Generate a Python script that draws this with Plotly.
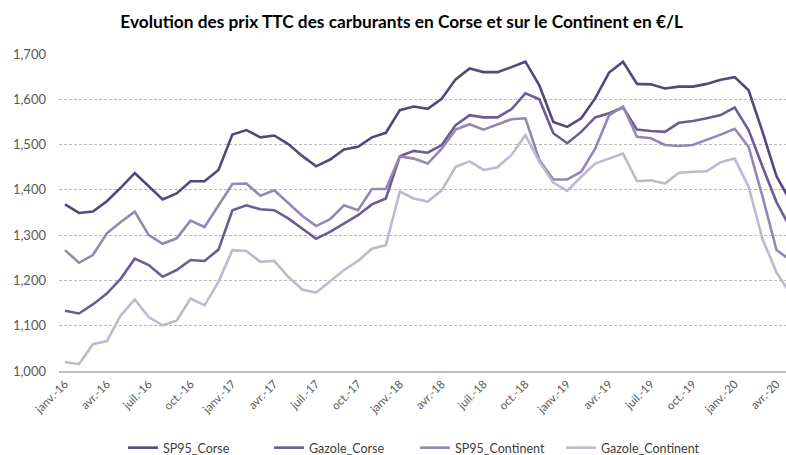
import plotly.graph_objects as go

months = ["janv.", "févr.", "mars", "avr.", "mai", "juin", "juil.", "août", "sept.", "oct.", "nov.", "déc."]
years = ["16", "17", "18", "19", "20"]
categories = [f"{m}-{y}" for y in years for m in months][:53]

sp95_corse = [1368, 1349, 1352, 1375, 1405, 1437, 1408, 1379, 1392, 1419, 1419, 1444,
              1522, 1532, 1516, 1520, 1501, 1475, 1452, 1467, 1489, 1495, 1516, 1526,
              1576, 1584, 1579, 1601, 1644, 1668, 1660, 1660, 1671, 1683, 1631, 1550,
              1539, 1558, 1602, 1659, 1683, 1634, 1633, 1624, 1628, 1628, 1634, 1643,
              1649, 1620, 1528, 1430, 1375]
gazole_corse = [1133, 1127, 1147, 1171, 1204, 1248, 1234, 1208, 1223, 1245, 1243, 1268,
                1355, 1366, 1357, 1355, 1337, 1315, 1292, 1307, 1326, 1344, 1368, 1381,
                1474, 1486, 1482, 1499, 1543, 1565, 1560, 1560, 1578, 1613, 1600, 1525,
                1503, 1528, 1560, 1569, 1582, 1533, 1530, 1528, 1548, 1552, 1558, 1565,
                1582, 1532, 1451, 1373, 1315]
sp95_continent = [1267, 1239, 1256, 1304, 1329, 1352, 1300, 1281, 1293, 1332, 1318, 1366,
                  1413, 1414, 1387, 1399, 1370, 1343, 1320, 1335, 1366, 1355, 1402, 1402,
                  1474, 1469, 1458, 1491, 1533, 1545, 1533, 1545, 1556, 1558, 1466, 1423,
                  1423, 1440, 1491, 1565, 1584, 1517, 1514, 1499, 1497, 1499, 1510, 1522,
                  1535, 1495, 1385, 1267, 1245]
gazole_continent = [1020, 1015, 1059, 1066, 1123, 1158, 1119, 1101, 1111, 1160, 1145, 1197,
                    1267, 1265, 1241, 1243, 1208, 1180, 1173, 1197, 1223, 1243, 1270, 1278,
                    1396, 1381, 1374, 1399, 1451, 1463, 1444, 1450, 1477, 1521, 1462, 1416,
                    1398, 1429, 1458, 1469, 1480, 1419, 1421, 1414, 1438, 1440, 1441, 1461,
                    1469, 1407, 1291, 1218, 1170]

series_names = ["SP95_Corse", "Gazole_Corse", "SP95_Continent", "Gazole_Continent"]
series_values = [sp95_corse, gazole_corse, sp95_continent, gazole_continent]
colors = ["#57467a", "#6d5b94", "#9687b2", "#bfb8d2"]

y_ticks = [1000, 1100, 1200, 1300, 1400, 1500, 1600, 1700]
y_ticklabels = ["1,000", "1,100", "1,200", "1,300", "1,400", "1,500", "1,600", "1,700"]

x_idx = list(range(len(categories)))
x_tickvals = x_idx[::3]
x_ticktext = categories[::3]

fig = go.Figure()
for name, vals, col in zip(series_names, series_values, colors):
    fig.add_trace(go.Scatter(x=x_idx, y=vals, name=name, mode="lines",
                             line=dict(color=col, width=2.6)))

fig.update_layout(
    width=786, height=455,
    margin=dict(l=59, r=0, t=54, b=84, autoexpand=False),
    paper_bgcolor="white", plot_bgcolor="white",
    font=dict(family="Lato, 'Open Sans', sans-serif", color="#595959", size=12),
    title=dict(text="<b>Evolution des prix TTC des carburants en Corse et sur le Continent en €/L</b>",
               x=0.511, xanchor="center", y=0.952, yanchor="middle",
               font=dict(size=17.3, color="#000000", family="Lato, sans-serif")),
    showlegend=True,
    legend=dict(orientation="h", xref="container", yref="paper",
                x=0.528, xanchor="center", y=-0.243, yanchor="middle",
                font=dict(size=12.5, color="#404040"), itemwidth=30,
                entrywidth=101, tracegroupgap=0),
)
fig.update_xaxes(range=[-0.43, 51.68], tickmode="array", tickvals=x_tickvals,
                 ticktext=x_ticktext, tickangle=-45, showgrid=False, zeroline=False,
                 showline=True, linecolor="#c0c0c0", linewidth=1.6, automargin=False,
                 tickfont=dict(size=11.5, color="#595959"), ticks="")
fig.update_yaxes(range=[1000, 1700], tickmode="array", tickvals=y_ticks,
                 ticktext=y_ticklabels, showgrid=True, gridcolor="#b8b8b8",
                 griddash="3px,2px", gridwidth=1, zeroline=False, automargin=False,
                 ticklabelstandoff=12, tickfont=dict(size=13, color="#595959"))

fig.write_html("out.html", config={"displayModeBar": False},
               post_script="document.body.style.margin='0px';document.body.style.overflow='hidden';")
